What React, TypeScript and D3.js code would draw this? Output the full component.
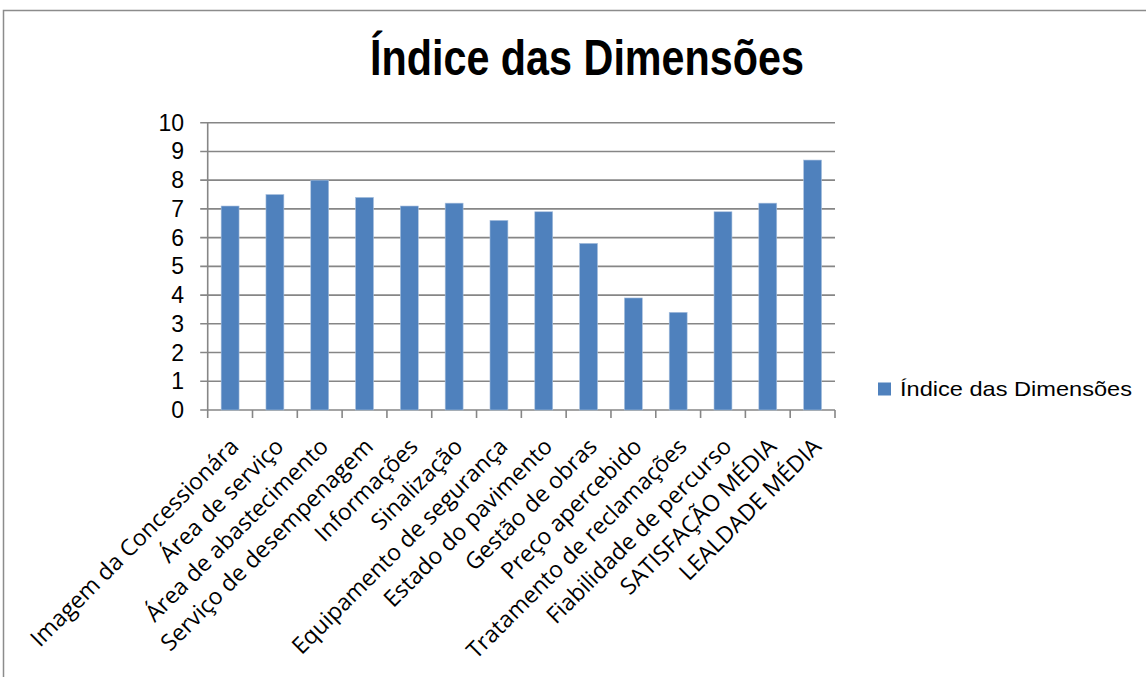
import React from "react";
import * as d3 from "d3";

const categories = [
  "Imagem da Concessionára",
  "Área de serviço",
  "Área de abastecimento",
  "Serviço de desempenagem",
  "Informações",
  "Sinalização",
  "Equipamento de segurança",
  "Estado do pavimento",
  "Gestão de obras",
  "Preço apercebido",
  "Tratamento de reclamações",
  "Fiabilidade de percurso",
  "SATISFAÇÃO MÉDIA",
  "LEALDADE MÉDIA",
];
const values = [7.1, 7.5, 8.0, 7.4, 7.1, 7.2, 6.6, 6.9, 5.8, 3.9, 3.4, 6.9, 7.2, 8.7];
const yTicks = [0, 1, 2, 3, 4, 5, 6, 7, 8, 9, 10];
const title = "Índice das Dimensões";
const seriesName = "Índice das Dimensões";

export default function App() {
  const left = 207.7;
  const right = 835;
  const top = 122.7;
  const bottom = 410;
  const x = d3.scaleBand<string>().domain(categories).range([left, right]).padding(0);
  const y = d3.scaleLinear().domain([0, 10]).range([bottom, top]);
  const step = x.step();
  const barW = step / 2.5;
  const grid = "#868686";
  const blue = "#4f81bd";
  const lblFont = "'Open Sans', 'Noto Sans', sans-serif";

  return (
    <svg
      width={1146}
      height={677}
      style={{ position: "absolute", left: 0, top: 0, background: "#fff" }}
    >
      <rect x={3.5} y={10.5} width={1300} height={900} fill="#fff" stroke="#8c8c8c" strokeWidth={1.5} />
      <text
        x={370}
        y={75}
        textAnchor="start"
        fontFamily="'Liberation Sans', Arial, sans-serif"
        fontWeight="bold"
        fontSize={50}
        textLength={434}
        lengthAdjust="spacingAndGlyphs"
        fill="#000"
      >
        {title}
      </text>
      {yTicks.map((t) => (
        <g key={t}>
          <line x1={left - 7.5} x2={right} y1={y(t)} y2={y(t)} stroke={grid} strokeWidth={1.6} />
          <text
            x={184}
            y={y(t)}
            dy="0.35em"
            textAnchor="end"
            fontFamily="'Liberation Sans', Arial, sans-serif"
            fontSize={23}
            fill="#000"
          >
            {t}
          </text>
        </g>
      ))}
      <line x1={left} x2={left} y1={top} y2={bottom} stroke={grid} strokeWidth={1.6} />
      {categories.map((c, i) => (
        <line
          key={"tk" + i}
          x1={x(c) as number}
          x2={x(c) as number}
          y1={bottom}
          y2={bottom + 8}
          stroke={grid}
          strokeWidth={1.6}
        />
      ))}
      <line x1={right} x2={right} y1={bottom} y2={bottom + 8} stroke={grid} strokeWidth={1.6} />
      {categories.map((c, i) => (
        <rect
          key={"b" + i}
          x={(x(c) as number) + (step - barW) / 2}
          y={y(values[i])}
          width={barW}
          height={bottom - y(values[i])}
          fill={blue}
          stroke="#a9c1de"
          strokeWidth={0.6}
        />
      ))}
      {categories.map((c, i) => {
        const cx = (x(c) as number) + step / 2;
        return (
          <text
            key={"l" + i}
            transform={`translate(${cx + 10},${bottom + 38}) rotate(-45)`}
            textAnchor="end"
            fontFamily={lblFont}
            fontSize={23}
            fill="#000"
          >
            {c}
          </text>
        );
      })}
      <rect x={878} y={382.5} width={13} height={13} fill={blue} />
      <text
        x={900}
        y={396}
        fontFamily="'Liberation Sans', Arial, sans-serif"
        fontSize={21}
        textLength={232}
        lengthAdjust="spacingAndGlyphs"
        fill="#000"
      >
        {seriesName}
      </text>
    </svg>
  );
}
